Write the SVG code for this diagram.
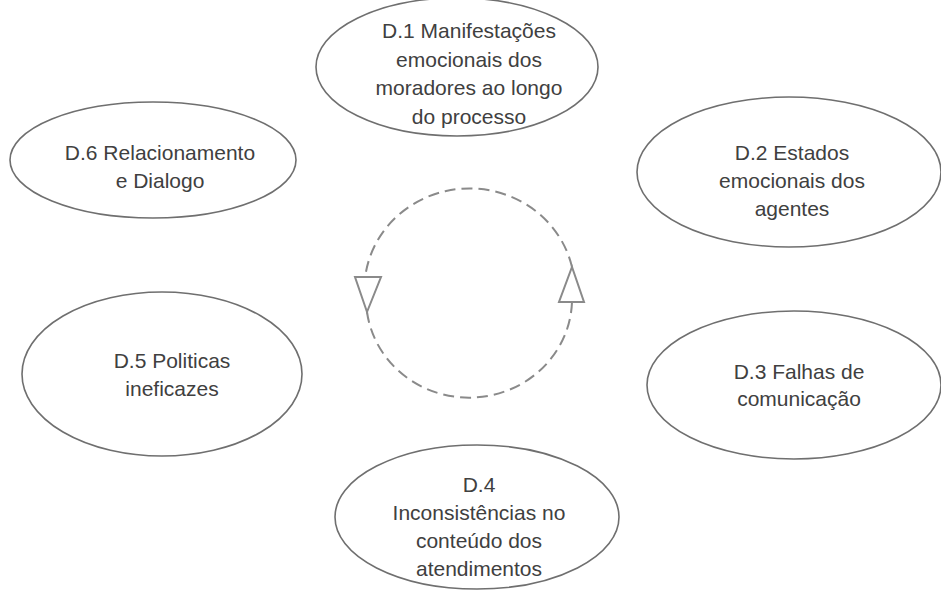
<svg xmlns="http://www.w3.org/2000/svg" width="941" height="592" viewBox="0 0 941 592">
<style>
.node ellipse{fill:#ffffff;stroke:#6f6f6f;stroke-width:1.6}
.node text{font-family:"Liberation Sans",Arial,sans-serif;font-size:21px;fill:#404040;text-anchor:middle}
.loop{fill:none;stroke:#8a8a8a;stroke-width:2;stroke-dasharray:11 6}
.head{fill:#ffffff;stroke:#8a8a8a;stroke-width:2;stroke-linejoin:miter}
</style>
<rect width="941" height="592" fill="#ffffff"/>
<g id="connectors">
<path class="loop" d="M572,267 A103,99 0 1,0 367,312"/>
<path class="loop" d="M367,312 A103,99 0 0,0 572,302"/>
<polygon class="head" points="355,277 381,277 367,312"/>
<polygon class="head" points="559,302 584,302 572,267"/>
</g>
<g id="D1" class="node">
<ellipse cx="457" cy="67" rx="141" ry="69"/>
<text x="469" y="38">D.1 Manifestações</text>
<text x="469" y="66.7">emocionais dos</text>
<text x="469" y="95.3">moradores ao longo</text>
<text x="469" y="124">do processo</text>
</g>
<g id="D2" class="node">
<ellipse cx="789" cy="172" rx="152" ry="75"/>
<text x="792" y="160">D.2 Estados</text>
<text x="792" y="188">emocionais dos</text>
<text x="792" y="216">agentes</text>
</g>
<g id="D3" class="node">
<ellipse cx="794" cy="385" rx="147" ry="74"/>
<text x="799" y="379">D.3 Falhas de</text>
<text x="799" y="406">comunicação</text>
</g>
<g id="D4" class="node">
<ellipse cx="477" cy="517" rx="142" ry="72"/>
<text x="479" y="492">D.4</text>
<text x="479" y="520">Inconsistências no</text>
<text x="479" y="548">conteúdo dos</text>
<text x="479" y="576">atendimentos</text>
</g>
<g id="D5" class="node">
<ellipse cx="162" cy="374" rx="140" ry="82"/>
<text x="172" y="368">D.5 Politicas</text>
<text x="172" y="396">ineficazes</text>
</g>
<g id="D6" class="node">
<ellipse cx="153" cy="160" rx="143" ry="58"/>
<text x="160" y="160">D.6 Relacionamento</text>
<text x="160" y="188">e Dialogo</text>
</g>
</svg>
